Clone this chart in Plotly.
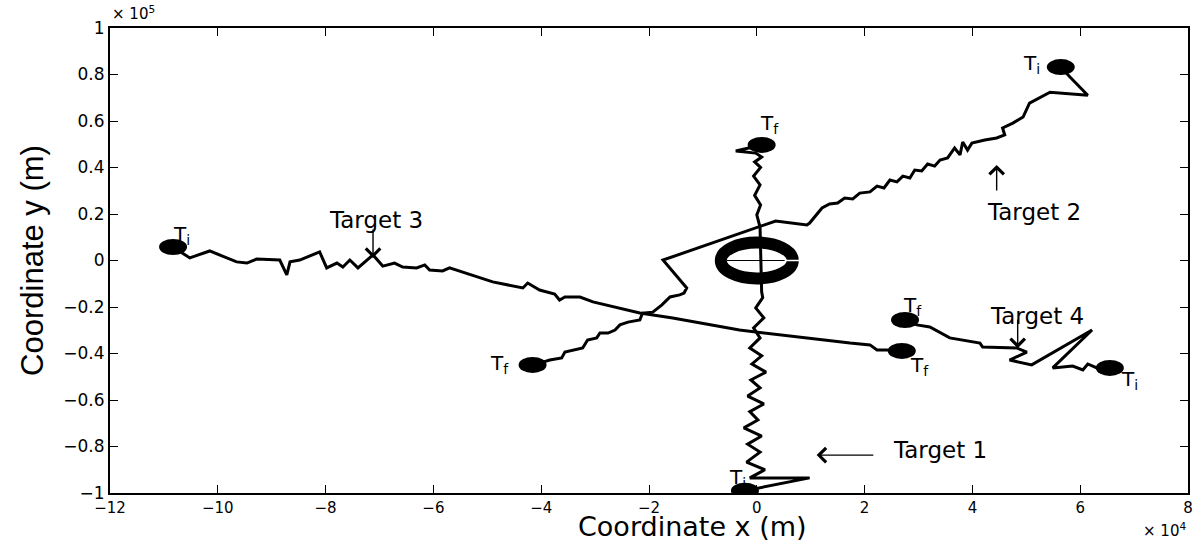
import plotly.graph_objects as go

# Units: x in 10^4 m, y in 10^5 m (as shown on the axes with the exponent labels)

# Target 1 (starts at bottom, ends at top)
t1_x = [-0.22, 0.98, -0.13, 0.15, -0.19, 0.06, -0.17, 0.09, -0.24, 0.02, -0.13, 0.13, -0.17, 0.06,
        -0.11, 0.17, -0.09, 0.09, -0.13, 0.06, -0.06, 0.13, -0.02, 0.11, 0.09, 0.06, 0.00, 0.07,
        -0.04, 0.06, -0.06, 0.07, -0.04, 0.09, -0.02, -0.39, 0.09]
t1_y = [-0.99, -0.935, -0.935, -0.90, -0.867, -0.824, -0.79, -0.755, -0.72, -0.686, -0.65, -0.617,
        -0.583, -0.548, -0.514, -0.48, -0.445, -0.41, -0.376, -0.333, -0.29, -0.247, -0.204, -0.16,
        -0.135, 0.144, 0.196, 0.239, 0.28, 0.325, 0.363, 0.40, 0.424, 0.445, 0.462, 0.471, 0.497]

# Target 2 (starts top right, ends lower left)
t2_x = [5.64, 5.81, 6.14, 5.44, 5.06, 4.94, 4.75, 4.56, 4.60, 4.45, 4.23, 3.99, 3.91, 3.82, 3.77,
        3.67, 3.54, 3.40, 3.30, 3.17, 3.06, 2.93, 2.84, 2.71, 2.60, 2.47, 2.36, 2.23, 2.10, 1.91,
        1.78, 1.63, 1.50, 1.35, 1.21, 0.98, 0.93, 0.35, -1.74, -1.30, -1.35, -1.43, -1.61, -1.76,
        -1.93, -2.12, -2.17, -2.39, -2.54, -2.63, -2.76, -2.91, -2.97, -3.14, -3.23, -3.40, -3.56,
        -3.62, -3.84, -3.97, -4.16]
t2_y = [0.832, 0.789, 0.711, 0.724, 0.677, 0.617, 0.591, 0.57, 0.54, 0.527, 0.518, 0.505, 0.475,
        0.51, 0.454, 0.484, 0.441, 0.432, 0.406, 0.415, 0.385, 0.389, 0.355, 0.363, 0.338, 0.346,
        0.312, 0.32, 0.295, 0.29, 0.265, 0.269, 0.247, 0.243, 0.226, 0.161, 0.153, 0.17, 0.002,
        -0.118, -0.14, -0.148, -0.157, -0.191, -0.222, -0.226, -0.256, -0.265, -0.277, -0.299,
        -0.312, -0.312, -0.333, -0.342, -0.376, -0.385, -0.394, -0.419, -0.428, -0.437, -0.449]

# Target 3 (starts far left, ends right of centre)
t3_x = [-10.83, -10.52, -10.15, -9.65, -9.46, -9.28, -8.85, -8.72, -8.66, -8.48, -8.11, -7.98,
        -7.79, -7.68, -7.55, -7.40, -7.12, -6.94, -6.72, -6.57, -6.31, -6.16, -6.07, -5.83, -5.70,
        -5.32, -4.90, -4.34, -4.25, -4.03, -3.88, -3.75, -3.66, -3.56, -3.28, -3.04, -2.17, -1.56,
        -0.32, 1.17, 1.73, 2.10, 2.23, 2.41, 2.69]
t3_y = [0.058, 0.011, 0.041, -0.006, -0.011, 0.006, 0.002, -0.062, -0.006, 0.002, 0.037, -0.032,
        -0.011, -0.028, 0.002, -0.032, 0.024, -0.024, -0.011, -0.028, -0.032, -0.019, -0.041,
        -0.045, -0.032, -0.062, -0.092, -0.118, -0.097, -0.127, -0.135, -0.144, -0.17, -0.157,
        -0.157, -0.178, -0.226, -0.247, -0.299, -0.342, -0.355, -0.363, -0.385, -0.385, -0.389]

# Target 4 (starts right, ends right of centre)
t4_x = [6.55, 6.31, 6.14, 6.05, 5.86, 5.49, 6.22, 5.10, 4.69, 5.01, 4.82, 4.19, 4.14, 3.82, 3.58,
        3.21, 2.97, 2.75]
t4_y = [-0.462, -0.462, -0.445, -0.471, -0.454, -0.462, -0.299, -0.449, -0.428, -0.394, -0.376,
        -0.372, -0.355, -0.342, -0.333, -0.286, -0.277, -0.256]

tracks_x = [t1_x, t2_x, t3_x, t4_x]
tracks_y = [t1_y, t2_y, t3_y, t4_y]

# Sensor position (centre ring)
sensor_x = [0.0]
sensor_y = [0.0]

# Endpoint labels
label_text = ["T<sub>i</sub>", "T<sub>f</sub>", "T<sub>i</sub>", "T<sub>f</sub>",
              "T<sub>i</sub>", "T<sub>f</sub>", "T<sub>i</sub>", "T<sub>f</sub>"]
label_x = [-0.35, 0.24, 5.10, -4.77, -10.67, 3.02, 6.92, 2.88]
label_y = [-0.935, 0.587, 0.845, -0.445, 0.11, -0.454, -0.514, -0.196]

# Target names and arrows
target_names = ["Target 1", "Target 2", "Target 3", "Target 4"]
name_x = [3.40, 5.14, -7.07, 5.19]
name_y = [-0.815, 0.209, 0.175, -0.239]
arrow_tip_x = [1.11, 4.45, -7.12, 4.84]
arrow_tip_y = [-0.837, 0.411, 0.011, -0.377]
arrow_tail_x = [2.19, 4.45, -7.12, 4.84]
arrow_tail_y = [-0.837, 0.295, 0.14, -0.247]

x_ticks = [-12, -10, -8, -6, -4, -2, 0, 2, 4, 6, 8]
x_ticktext = ["\u221212", "\u221210", "\u22128", "\u22126", "\u22124", "\u22122", "0", "2", "4", "6", "8"]
y_ticks = [-1, -0.8, -0.6, -0.4, -0.2, 0, 0.2, 0.4, 0.6, 0.8, 1]
y_ticktext = ["\u22121", "\u22120.8", "\u22120.6", "\u22120.4", "\u22120.2", "0", "0.2", "0.4", "0.6", "0.8", "1"]

FONT = "DejaVu Sans, Liberation Sans, Arial, sans-serif"

fig = go.Figure()
for i, (xs, ys) in enumerate(zip(tracks_x, tracks_y)):
    fig.add_trace(go.Scatter(x=xs, y=ys, mode="lines", name=target_names[i],
                             line=dict(color="black", width=3), showlegend=False,
                             hoverinfo="skip"))

shapes = []
# endpoint dots (ellipses, pixel-sized, anchored on the data)
for xs, ys in zip(tracks_x, tracks_y):
    for px, py in ((xs[0], ys[0]), (xs[-1], ys[-1])):
        shapes.append(dict(type="circle", xref="x", yref="y", xsizemode="pixel", ysizemode="pixel",
                           xanchor=px, yanchor=py, x0=-14, x1=14, y0=-8, y1=8,
                           fillcolor="black", line=dict(width=0)))
# sensor ring
shapes.append(dict(type="circle", xref="x", yref="y", xsizemode="pixel", ysizemode="pixel",
                   xanchor=sensor_x[0], yanchor=sensor_y[0], x0=-36, x1=36, y0=-18, y1=18,
                   fillcolor="rgba(0,0,0,0)", line=dict(color="black", width=12)))
shapes.append(dict(type="line", xref="x", yref="y", xsizemode="pixel", ysizemode="pixel",
                   xanchor=sensor_x[0], yanchor=sensor_y[0], x0=-30, x1=28, y0=0, y1=0,
                   line=dict(color="black", width=1)))
shapes.append(dict(type="line", xref="x", yref="y", xsizemode="pixel", ysizemode="pixel",
                   xanchor=sensor_x[0], yanchor=sensor_y[0], x0=28, x1=44, y0=0, y1=0,
                   line=dict(color="white", width=1.5)))

annotations = []
for t, x, y in zip(label_text, label_x, label_y):
    annotations.append(dict(x=x, y=y, xref="x", yref="y", text=t, showarrow=False,
                            font=dict(family=FONT, size=20, color="black")))
for i in range(4):
    annotations.append(dict(x=name_x[i], y=name_y[i], xref="x", yref="y", text=target_names[i],
                            showarrow=False, font=dict(family=FONT, size=23, color="black")))
    annotations.append(dict(x=arrow_tip_x[i], y=arrow_tip_y[i], ax=arrow_tail_x[i], ay=arrow_tail_y[i],
                            xref="x", yref="y", axref="x", ayref="y", text="", showarrow=True,
                            arrowhead=4, arrowsize=2, arrowwidth=1.4, arrowcolor="black",
                            standoff=0, startstandoff=0))
annotations.append(dict(x=0.0, y=1.0, xref="paper", yref="paper", xanchor="left", yanchor="bottom",
                        yshift=3, text="\u00d7 10<sup>5</sup>", showarrow=False,
                        font=dict(family=FONT, size=15, color="black")))
annotations.append(dict(x=1.0, y=0.0, xref="paper", yref="paper", xanchor="right", yanchor="top",
                        yshift=-25, text="\u00d7 10<sup>4</sup>", showarrow=False,
                        font=dict(family=FONT, size=15, color="black")))
# x-axis title placed precisely below the tick labels
annotations.append(dict(x=-1.2, y=0.0, xref="x", yref="paper", xanchor="center", yanchor="bottom",
                        yshift=-50, text="Coordinate x (m)", showarrow=False, borderpad=0,
                        font=dict(family=FONT, size=27, color="black")))

fig.update_layout(
    width=1194, height=541,
    margin=dict(l=110, r=6, t=28, b=48, autoexpand=False),
    paper_bgcolor="white", plot_bgcolor="white",
    showlegend=False,
    shapes=shapes, annotations=annotations,
    font=dict(family=FONT, color="black"),
)
fig.update_xaxes(
    range=[-12, 8], tickvals=x_ticks, ticktext=x_ticktext,
    showgrid=False, zeroline=False, showline=True, linecolor="black", linewidth=2,
    mirror="allticks", ticks="inside", ticklen=8, tickcolor="black", tickwidth=1,
    tickfont=dict(family=FONT, size=15, color="black"),
    automargin=False,
)
fig.update_yaxes(
    range=[-1, 1], tickvals=y_ticks, ticktext=y_ticktext,
    showgrid=False, zeroline=False, showline=True, linecolor="black", linewidth=2,
    mirror="allticks", ticks="inside", ticklen=8, tickcolor="black", tickwidth=1,
    tickfont=dict(family=FONT, size=17, color="black"),
    title=dict(text="Coordinate y (m)",
               font=dict(family="Liberation Sans Narrow, Liberation Sans, Arial, sans-serif", size=31, color="black"),
               standoff=10),
    automargin=False,
)

fig.write_html("out.html", config={"displayModeBar": False},
               post_script="document.body.style.margin='0px';document.body.style.overflow='hidden';")
